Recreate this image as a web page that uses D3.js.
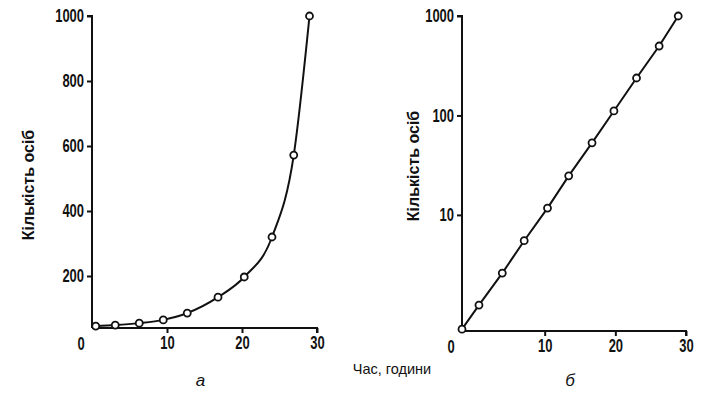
<!DOCTYPE html>
<html>
<head>
<meta charset="utf-8">
<script src="https://cdn.jsdelivr.net/npm/d3@7"></script>
<style>
  body { margin: 0; background: #fff; }
  svg text { fill: #111; }
  .tick text, .corner { font-family: "Liberation Sans", Arial, sans-serif; font-weight: bold; font-size: 18px; }
  .ytitle { font-family: "Liberation Sans", Arial, sans-serif; font-weight: bold; font-size: 16px; }
  .xtitle { font-family: "Liberation Sans", Arial, sans-serif; font-size: 14.5px; }
  .panel { font-family: "Liberation Sans", Arial, sans-serif; font-style: italic; font-size: 17px; }
</style>
</head>
<body>
<svg id="chart" width="708" height="396"></svg>
<script>
// Data
const timeA = [0.5, 3.1, 6.3, 9.5, 12.7, 16.8, 20.3, 24.0, 26.9, 29.0];
const countA = [46, 49, 55, 65, 86, 135, 197, 320, 572, 1000];
const timeB = [-1.7, 0.7, 4.0, 7.1, 10.4, 13.4, 16.7, 19.8, 23.0, 26.2, 28.9];
const countB = [0.71, 1.24, 2.6, 5.5, 11.7, 24.7, 53, 111, 238, 499, 1000];
const xTicks = [10, 20, 30];
const yTicksA = [200, 400, 600, 800, 1000];
const yTicksB = [10, 100, 1000];

const svg = d3.select("#chart");
const narrow = 0.72; // squeeze for the condensed print digits

// scales
const xA = d3.scaleLinear().domain([0, 30]).range([92, 317]);
const yA = d3.scaleLinear().domain([40, 1000]).range([328, 16]);
const xB = d3.scaleLinear().domain([-1.7, 30]).range([462, 686]);
const yB = d3.scaleLog().domain([0.68, 1000]).range([331, 16]);

function drawPanel(x, y, yTicks, times, counts, curve, letter) {
  const g = svg.append("g");
  const y0 = y.range()[0], x0 = x.range()[0];

  g.append("g")
    .attr("transform", `translate(0,${y0})`)
    .call(d3.axisBottom(x).tickValues(xTicks).tickSize(5).tickPadding(3).tickFormat(d3.format("d")))
    .call(a => a.select(".domain").attr("d", `M${x0},0H${x.range()[1]}V5`))
    .call(a => a.selectAll(".tick text").attr("transform", `scale(${narrow},1)`));

  g.append("g")
    .attr("transform", `translate(${x0},0)`)
    .call(d3.axisLeft(y).tickValues(yTicks).tickSize(5).tickPadding(3).tickFormat(d3.format("d")))
    .call(a => a.select(".domain").attr("d", `M0,${y0}V${y.range()[1]}H-5`))
    .call(a => a.selectAll(".tick text").attr("x", -8 / narrow).attr("transform", `scale(${narrow},1)`));

  g.selectAll(".domain, .tick line").attr("stroke", "#111").attr("stroke-width", 2);
  g.selectAll(".tick text").attr("fill", "#111");

  g.append("text").attr("class", "corner")
    .attr("transform", `translate(${x0 - 11},${y0 + 22}) scale(${narrow},1)`)
    .attr("text-anchor", "middle").text("0");

  const pts = times.map((t, i) => [t, counts[i]]);
  g.append("path")
    .datum(pts)
    .attr("fill", "none").attr("stroke", "#111").attr("stroke-width", 2)
    .attr("d", d3.line().x(d => x(d[0])).y(d => y(d[1])).curve(curve));

  g.selectAll("circle").data(pts).enter().append("circle")
    .attr("cx", d => x(d[0])).attr("cy", d => y(d[1]))
    .attr("r", 3.5).attr("fill", "#fff").attr("stroke", "#111").attr("stroke-width", 1.8);

  g.append("text").attr("class", "panel")
    .attr("x", (x.range()[0] + x.range()[1]) / 2 - 4).attr("y", 386)
    .attr("text-anchor", "middle").text(letter);
}

drawPanel(xA, yA, yTicksA, timeA, countA, d3.curveMonotoneX, "а");
drawPanel(xB, yB, yTicksB, timeB, countB, d3.curveLinear, "б");

// axis titles
svg.append("text").attr("class", "ytitle")
  .attr("transform", "translate(34,185) rotate(-90)")
  .attr("text-anchor", "middle").text("Кількість осіб");
svg.append("text").attr("class", "ytitle")
  .attr("transform", "translate(419,166) rotate(-90)")
  .attr("text-anchor", "middle").text("Кількість осіб");
svg.append("text").attr("class", "xtitle")
  .attr("x", 392).attr("y", 374)
  .attr("text-anchor", "middle").text("Час, години");
</script>
</body>
</html>
